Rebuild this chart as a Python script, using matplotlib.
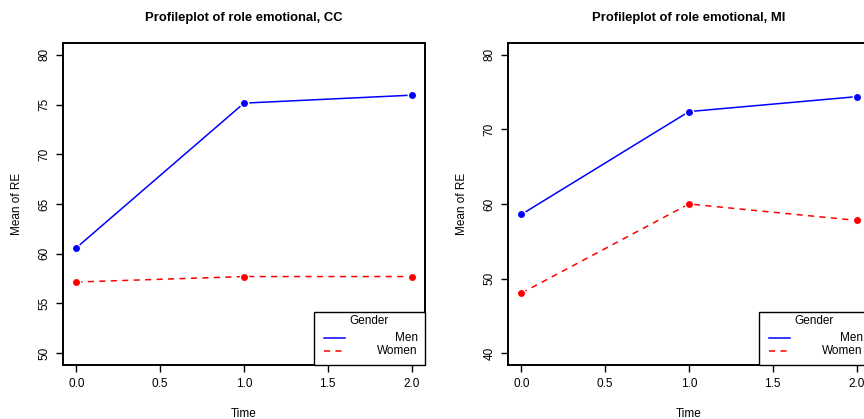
"""Profile plots of role emotional (RE) means by gender over time, CC and MI groups."""
import matplotlib
matplotlib.use("Agg")
import matplotlib.pyplot as plt
from matplotlib.patches import Rectangle
from matplotlib.lines import Line2D

plt.rcParams["font.family"] = ["Liberation Sans", "DejaVu Sans"]

time = [0.0, 1.0, 2.0]
x_ticks = [0.0, 0.5, 1.0, 1.5, 2.0]

cc_men = [60.6, 75.15, 75.95]
cc_women = [57.15, 57.7, 57.7]
cc_yticks = [50, 55, 60, 65, 70, 75, 80]

mi_men = [58.6, 72.4, 74.4]
mi_women = [48.05, 60.0, 57.8]
mi_yticks = [40, 50, 60, 70, 80]

groups = ["Men", "Women"]
colors = {"Men": "#0000ff", "Women": "#ff0000"}
styles = {"Men": "-", "Women": (0, (4, 3.5))}

W, H = 864, 419


def panel(fig, left_px, men, women, yticks, title):
    ax = fig.add_axes([left_px / W, (H - 365) / H, 362 / W, 322 / H])
    for name, vals in (("Men", men), ("Women", women)):
        ax.plot(time, vals, color=colors[name], linestyle=styles[name], lw=1.1,
                marker="o", ms=6, mfc=colors[name], mec="white", mew=1.0)
    lo, hi = yticks[0], yticks[-1]
    pad = 0.04 * (hi - lo)
    ax.set_xlim(-0.08, 2.08)
    ax.set_ylim(lo - pad, hi + pad)
    ax.set_xticks(x_ticks)
    ax.set_xticklabels([f"{t:.1f}" for t in x_ticks])
    ax.set_yticks(yticks)
    ax.set_yticklabels([str(v) for v in yticks], rotation=90, va="center")
    ax.tick_params(direction="out", length=5, width=1, labelsize=8.5, pad=4)
    for s in ax.spines.values():
        s.set_linewidth(1.4)
    ax.set_xlabel("Time", fontsize=8.5, labelpad=13)
    ax.set_ylabel("Mean of RE", fontsize=8.5, labelpad=11)
    ax.set_title(title, fontsize=9.4, fontweight="bold", pad=16)

    # R-style legend box in the bottom-right corner
    tr = ax.transAxes
    ax.add_patch(Rectangle((0.692, 0.0), 0.308, 0.166, transform=tr,
                           fill=True, facecolor="white", edgecolor="black",
                           lw=1.0, zorder=5, clip_on=False))
    ax.text(0.845, 0.137, "Gender", transform=tr, ha="center", va="center",
            fontsize=8.5, zorder=6)
    for name, yy in zip(groups, [0.083, 0.044]):
        ax.add_line(Line2D([0.721, 0.779], [yy, yy], transform=tr,
                           color=colors[name], linestyle=styles[name], lw=1.1, zorder=6))
        ax.text(0.98, yy, name, transform=tr, ha="right", va="center",
                fontsize=8.5, zorder=6)
    return ax


fig = plt.figure(figsize=(W / 100, H / 100), dpi=100)
panel(fig, 63, cc_men, cc_women, cc_yticks, "Profileplot of role emotional, CC")
panel(fig, 508, mi_men, mi_women, mi_yticks, "Profileplot of role emotional, MI")
fig.savefig("out.png", dpi=100)
